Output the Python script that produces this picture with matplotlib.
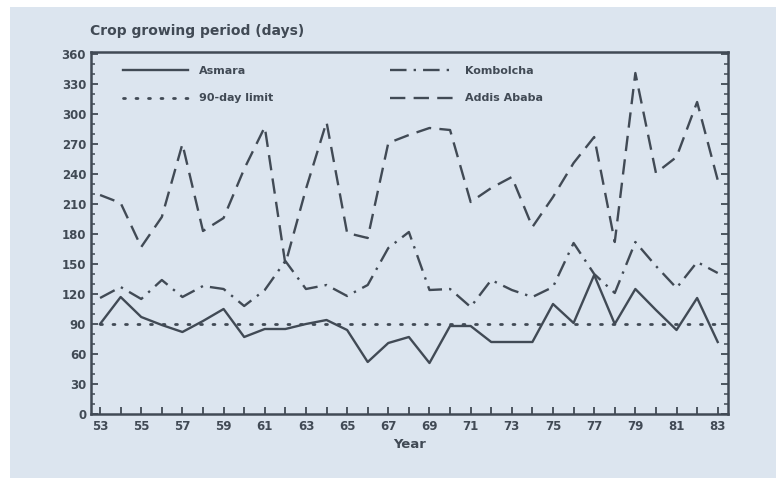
import matplotlib
matplotlib.use("Agg")
from matplotlib import pyplot as plt
from matplotlib.patches import Rectangle
from matplotlib.ticker import MultipleLocator

years = list(range(53, 84))
asmara = [90, 117, 97, 89, 82, 93, 105, 77, 85, 85, 90, 94, 84, 52, 71, 77,
          51, 88, 88, 72, 72, 72, 110, 91, 139, 90, 125, 104, 84, 116, 72]
kombolcha = [116, 127, 115, 134, 117, 128, 125, 108, 124, 153, 125, 129, 118, 129, 166, 182,
             124, 125, 107, 134, 124, 117, 127, 171, 140, 121, 172, 148, 126, 152, 141]
addis_ababa = [219, 211, 167, 197, 270, 183, 196, 245, 287, 150, 225, 292, 181, 176, 271, 279,
               286, 284, 212, 226, 237, 187, 217, 251, 277, 172, 341, 241, 257, 312, 234]
limit_days = 90
xtick_years = list(range(53, 84, 2))

INK = "#414a55"
BG = "#dce5ef"

plt.rcParams['font.family'] = ['DejaVu Sans']

fig = plt.figure(figsize=(7.76, 4.78), dpi=100, facecolor="white")
# scanned page: white margin at top and left
fig.add_artist(Rectangle((10 / 776, 0), 1, (478 - 7) / 478, transform=fig.transFigure,
                         facecolor=BG, edgecolor="none", zorder=-10))

ax = fig.add_axes([91 / 776, 64 / 478, 637 / 776, 362 / 478])
ax.set_facecolor(BG)

lw = 1.7
ax.plot(years, asmara, color=INK, lw=lw, label="Asmara")
ax.plot(years, [limit_days] * len(years), color=INK, lw=2.0,
        linestyle=(0, (0.7, 3.8)), dash_capstyle="round", label="90-day limit")
ax.plot(years, kombolcha, color=INK, lw=lw, linestyle=(0, (7, 3, 1, 3)), label="Kombolcha")
ax.plot(years, addis_ababa, color=INK, lw=lw, linestyle=(0, (6.5, 3.5)), label="Addis Ababa")

ax.set_xlim(52.56, 83.5)
ax.set_ylim(0, 362)
ax.set_xticks(years)
ax.set_xticklabels([str(y) if y in xtick_years else "" for y in years])
ax.set_yticks(range(0, 361, 30))
ax.yaxis.set_minor_locator(MultipleLocator(10))

for side in ax.spines.values():
    side.set_color(INK)
    side.set_linewidth(1.8)
ax.tick_params(axis="both", which="both", direction="in", colors=INK,
               labelcolor=INK, labelsize=8.5)
ax.tick_params(axis="y", which="both", right=True)
ax.tick_params(axis="both", which="major", length=5, width=1.3)
ax.tick_params(axis="y", which="minor", length=3, width=1.1)
ax.tick_params(axis="x", pad=4)
for lab in ax.get_xticklabels() + ax.get_yticklabels():
    lab.set_fontweight("bold")

ax.set_xlabel("Year", color=INK, fontsize=9.5, labelpad=4, fontweight="bold")
fig.text(90 / 776, 1 - 31 / 478, "Crop growing period (days)", color=INK,
         fontsize=10, va="center", ha="left", fontweight="bold")

leg = ax.legend(ncol=2, loc="upper left", bbox_to_anchor=(0.035, 0.99), frameon=False,
                prop={"size": 8, "weight": "bold"}, handlelength=5.8, columnspacing=10.5,
                labelspacing=1.6, handletextpad=1.0)
for t in leg.get_texts():
    t.set_color(INK)

fig.savefig("out.png", dpi=100, facecolor=fig.get_facecolor())
